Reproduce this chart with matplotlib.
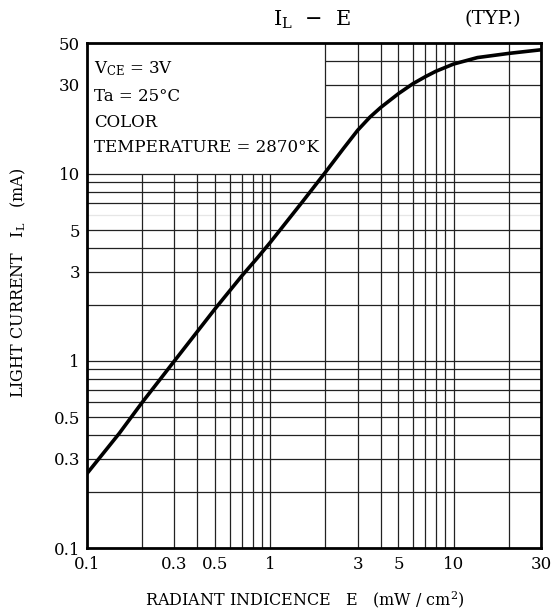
import matplotlib
matplotlib.use("Agg")
import matplotlib.pyplot as plt
from matplotlib.ticker import FixedLocator, FixedFormatter, NullLocator

# Data
E = [0.1, 0.15, 0.2, 0.3, 0.5, 0.7, 0.85, 1.0, 1.5, 2.0, 2.5, 3.0, 3.5, 4.0, 5.0, 6.0,
     7.0, 8.0, 10.0, 13.5, 20.0, 25.0, 30.0]
IL = [0.25, 0.41, 0.60, 1.0, 1.9, 2.85, 3.55, 4.3, 7.1, 10.2, 13.6, 17.1, 20.1, 22.6, 26.8, 30.3,
      33.0, 35.3, 38.6, 41.8, 44.0, 45.1, 46.0]

x_ticks = [0.1, 0.3, 0.5, 1, 3, 5, 10, 30]
x_tick_labels = ["0.1", "0.3", "0.5", "1", "3", "5", "10", "30"]
y_ticks = [0.1, 0.3, 0.5, 1, 3, 5, 10, 30, 50]
y_tick_labels = ["0.1", "0.3", "0.5", "1", "3", "5", "10", "30", "50"]

x_grid = [0.2, 0.3, 0.4, 0.5, 0.6, 0.7, 0.8, 0.9, 1, 2, 3, 4, 5, 6, 7, 8, 9, 10, 20]
y_grid = [0.2, 0.3, 0.4, 0.5, 0.6, 0.7, 0.8, 0.9, 1, 2, 3, 4, 5, 7, 8, 9, 10, 20, 30, 40]
y_grid_faint = [6]

FONT = "DejaVu Serif"
plt.rcParams['font.family'] = [FONT]
plt.rcParams['mathtext.fontset'] = 'dejavuserif'

fig = plt.figure(figsize=(5.52, 6.11), dpi=100)
ax = fig.add_axes([0.1576, 0.1031, 0.8225, 0.8265])
ax.set_xscale("log")
ax.set_yscale("log")
ax.set_xlim(0.1, 30)
ax.set_ylim(0.1, 50)

# box region (upper-left) has no grid: x<2 and y>10
box_x, box_y = 2, 10
for xv in x_grid:
    top = 50 if xv >= box_x else box_y
    ax.vlines(xv, 0.1, top, color="#222222", lw=0.9, zorder=1)
for yv in y_grid:
    left = box_x if yv > box_y else 0.1
    ax.hlines(yv, left, 30, color="#222222", lw=0.9, zorder=1)
for yv in y_grid_faint:
    ax.hlines(yv, 0.1, 30, color="#e6e6e6", lw=0.9, zorder=0.5)

ax.plot(E, IL, color="black", lw=2.6, zorder=3, solid_capstyle="butt", solid_joinstyle="round")

for s in ax.spines.values():
    s.set_linewidth(2.0)
    s.set_color("black")

ax.xaxis.set_major_locator(FixedLocator(x_ticks))
ax.xaxis.set_major_formatter(FixedFormatter(x_tick_labels))
ax.xaxis.set_minor_locator(NullLocator())
ax.yaxis.set_major_locator(FixedLocator(y_ticks))
ax.yaxis.set_major_formatter(FixedFormatter(y_tick_labels))
ax.yaxis.set_minor_locator(NullLocator())
ax.tick_params(axis="both", which="both", length=0, labelsize=12, colors="black")
ax.tick_params(axis="x", pad=6)
ax.tick_params(axis="y", pad=5)

fs = 12
ax.text(0.1 * 1.09, 36.5, r"V$_{\rm CE}$ = 3V", fontsize=fs, va="center", ha="left", zorder=4)
ax.text(0.1 * 1.09, 25.8, "Ta = 25°C", fontsize=fs, va="center", ha="left", zorder=4)
ax.text(0.1 * 1.09, 18.7, "COLOR", fontsize=fs, va="center", ha="left", zorder=4)
ax.text(0.1 * 1.09, 13.9, "TEMPERATURE = 2870°K", fontsize=fs, va="center", ha="left", zorder=4)

fig.text(0.565, 0.968, r"I$_{\rm L}$  $-$  E", fontsize=15, ha="center", va="center")
fig.text(0.892, 0.968, "(TYP.)", fontsize=14, ha="center", va="center")

fig.text(0.033, 0.537, r"LIGHT CURRENT   I$_{\rm L}$   (mA)", fontsize=11.5, rotation=90,
         ha="center", va="center")
fig.text(0.553, 0.018, r"RADIANT INDICENCE   E   (mW / cm$^{2}$)", fontsize=11.5,
         ha="center", va="center")

fig.savefig("out.png", dpi=100)
